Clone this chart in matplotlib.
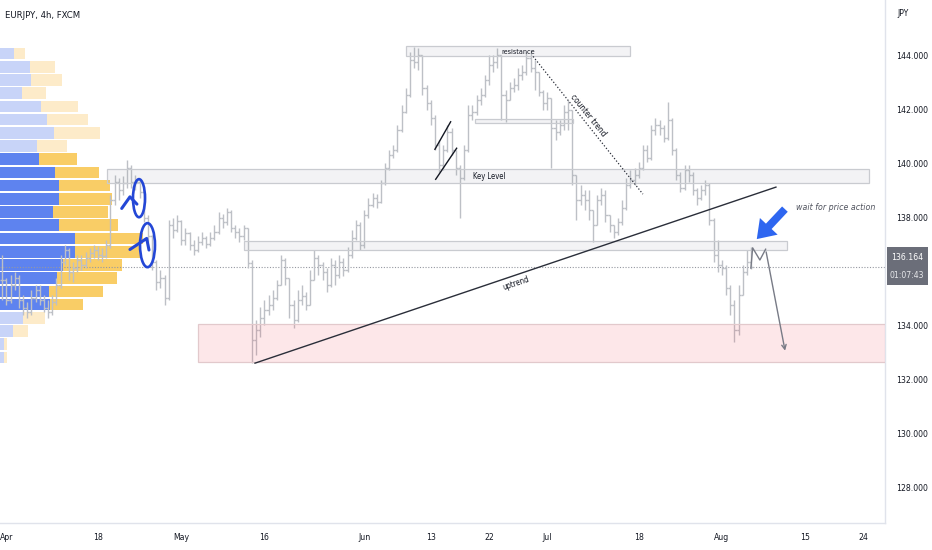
import matplotlib
matplotlib.use("Agg")
import matplotlib.pyplot as plt
import matplotlib.transforms as mtransforms
from matplotlib import font_manager
from matplotlib.font_manager import FontProperties
from matplotlib.collections import LineCollection
from matplotlib.patches import Rectangle, Ellipse, FancyArrowPatch

plt.rcParams["font.family"] = ["Liberation Sans", "DejaVu Sans"]


def find_narrow(italic=False):
    # look for a condensed / narrow face, TradingView text is quite narrow
    best = None
    for f in font_manager.fontManager.ttflist:
        fn = f.fname.lower()
        if not ("narrow" in fn or "condensed" in fn):
            continue
        if "bold" in fn or f.weight not in (400, "normal", "regular"):
            continue
        is_it = f.style in ("italic", "oblique")
        if is_it != italic:
            continue
        if best is None or "liberation" in fn:
            best = f.fname
    return best


narrow = find_narrow()
narrow_it = find_narrow(italic=True)


def fp(size, italic=False):
    path = narrow_it if italic else narrow
    if path:
        return FontProperties(fname=path, size=size)
    return FontProperties(family=["Liberation Sans", "DejaVu Sans"], size=size,
                          style="italic" if italic else "normal")


# ---- price data: EURJPY, half-day bars, x = trading day index (Apr 1 = 0)
closes = [
    135.67, 134.93, 135.48, 135.74, 134.93, 134.63, 134.48, 135.00, 135.30, 134.93,
    134.63, 134.48, 134.85, 135.48, 136.33, 136.78, 135.96, 136.11, 136.41, 136.22,
    136.48, 136.67, 136.78, 136.59, 136.56, 136.96, 138.63, 139.30, 139.00, 139.26,
    139.81, 139.30, 139.30, 138.93, 137.96, 137.30, 136.33, 135.59, 135.74, 135.00,
    137.70, 137.52, 137.85, 137.15, 137.41, 136.96, 136.78, 137.07, 137.22, 137.00,
    137.22, 137.44, 137.96, 137.81, 138.19, 137.59, 137.44, 137.30, 137.59, 136.30,
    133.44, 133.81, 134.26, 134.56, 134.74, 135.00, 135.48, 136.41, 135.74, 134.74,
    134.19, 134.93, 135.07, 134.74, 135.67, 136.48, 136.22, 135.96, 135.48, 136.22,
    135.85, 136.33, 136.04, 136.59, 137.22, 137.70, 136.96, 138.07, 138.44, 138.70,
    138.56, 139.26, 139.81, 140.30, 140.48, 141.22, 141.89, 142.52, 143.81, 143.74,
    144.00, 142.78, 142.22, 141.67, 140.67, 139.93, 140.48, 141.15, 140.48, 139.81,
    139.44, 140.48, 141.78, 141.89, 142.33, 142.52, 143.07, 143.63, 143.74, 144.00,
    142.52, 142.33, 142.78, 142.89, 143.26, 143.37, 143.89, 143.52, 143.37, 142.63,
    142.22, 142.41, 141.30, 141.15, 141.41, 141.89, 141.96, 139.56, 138.63, 138.81,
    138.63, 138.26, 137.70, 138.63, 138.81, 138.07, 137.70, 137.44, 137.81, 138.33,
    139.19, 139.37, 139.56, 139.81, 140.48, 140.19, 141.22, 141.41, 141.30, 140.93,
    141.59, 140.48, 139.56, 139.07, 139.74, 139.56, 139.00, 138.70, 139.00, 139.19,
    137.89, 136.59, 136.22, 136.11, 135.37, 134.74, 133.81, 135.11, 135.96, 136.33,
    136.164,
]
highs = [
    136.59, 135.74, 135.85, 135.96, 135.85, 135.11, 134.85, 135.30, 135.48, 135.48,
    135.11, 134.93, 135.11, 135.74, 136.59, 136.96, 136.85, 136.33, 136.59, 136.59,
    136.70, 136.85, 136.96, 136.93, 136.85, 137.15, 138.81, 139.56, 139.44, 139.52,
    140.11, 139.93, 139.56, 139.37, 139.00, 138.07, 137.33, 136.41, 136.04, 135.85,
    137.89, 137.96, 138.07, 137.89, 137.59, 137.44, 137.15, 137.30, 137.44, 137.30,
    137.44, 137.70, 138.19, 138.11, 138.33, 138.26, 137.70, 137.59, 137.70, 137.59,
    136.41, 134.19, 134.67, 134.93, 135.11, 135.30, 135.67, 136.59, 136.48, 135.74,
    134.93, 135.30, 135.48, 135.22, 136.04, 136.78, 136.59, 136.33, 136.11, 136.48,
    136.41, 136.59, 136.48, 136.89, 137.52, 137.89, 137.81, 138.26, 138.70, 138.89,
    138.85, 139.37, 140.00, 140.48, 140.67, 141.41, 142.15, 142.78, 144.11, 144.30,
    144.26, 144.00, 142.89, 142.33, 141.78, 140.85, 140.67, 141.41, 141.30, 140.48,
    139.93, 140.67, 142.15, 142.15, 142.52, 142.78, 143.26, 144.00, 144.00, 144.26,
    144.00, 142.70, 143.00, 143.15, 143.52, 143.63, 144.11, 144.19, 143.81, 143.07,
    142.70, 142.63, 142.41, 141.59, 141.59, 142.15, 142.33, 141.96, 139.56, 139.19,
    139.00, 139.00, 138.26, 138.81, 139.07, 139.00, 138.07, 137.70, 137.96, 138.63,
    139.44, 139.74, 139.81, 140.04, 140.67, 140.67, 141.41, 141.67, 141.59, 141.41,
    142.26, 141.67, 140.56, 139.67, 139.93, 139.93, 139.67, 139.07, 139.19, 139.37,
    139.26, 137.96, 137.15, 136.41, 136.22, 135.48, 134.93, 135.48, 136.22, 136.78,
    136.89,
]
lows = [
    134.93, 134.74, 134.81, 135.30, 134.63, 134.37, 134.26, 134.37, 134.85, 134.74,
    134.48, 134.26, 134.37, 134.74, 135.37, 136.22, 135.67, 135.59, 135.96, 136.04,
    136.11, 136.33, 136.48, 136.41, 136.33, 136.48, 136.85, 138.44, 138.63, 138.81,
    139.07, 139.07, 139.00, 138.70, 137.81, 137.07, 136.04, 135.30, 135.37, 134.74,
    134.93, 137.22, 137.44, 136.96, 136.96, 136.78, 136.59, 136.70, 136.96, 136.85,
    136.93, 137.15, 137.37, 137.59, 137.70, 137.44, 137.22, 137.07, 137.15, 136.11,
    132.59, 132.89, 133.56, 134.00, 134.37, 134.56, 134.93, 135.48, 135.48, 134.26,
    133.89, 134.11, 134.74, 134.56, 134.74, 135.67, 135.85, 135.67, 135.22, 135.41,
    135.48, 135.74, 135.81, 135.96, 136.48, 137.15, 136.78, 136.85, 137.96, 138.37,
    138.33, 138.52, 139.19, 139.74, 140.19, 140.41, 141.15, 141.85, 142.44, 143.52,
    143.44, 142.52, 141.96, 141.41, 140.48, 139.67, 139.74, 140.41, 140.30, 139.56,
    137.96, 139.37, 140.41, 141.59, 141.78, 142.15, 142.44, 142.89, 143.37, 143.52,
    141.59, 141.52, 142.33, 142.63, 142.70, 143.07, 143.26, 143.37, 142.70, 142.48,
    141.96, 141.96, 139.81, 140.85, 141.04, 141.22, 141.22, 139.19, 137.89, 138.44,
    138.26, 137.89, 137.07, 137.70, 138.44, 137.81, 137.44, 137.22, 137.33, 137.70,
    138.26, 139.07, 139.19, 139.44, 139.74, 140.04, 140.11, 141.04, 141.04, 140.78,
    140.85, 140.30, 139.37, 138.93, 139.00, 139.30, 138.81, 138.44, 138.63, 138.81,
    137.70, 136.33, 135.96, 135.85, 135.11, 134.37, 133.37, 133.63, 135.11, 135.85,
    136.07,
]
bar_start_day = -0.5
bar_step = 0.5
last_price = 136.164
countdown = "01:07:43"

tick_days = [0, 11, 21, 31, 43, 51, 58, 65, 76, 86, 96, 103]
tick_labels = ["Apr", "18", "May", "16", "Jun", "13", "22", "Jul", "18", "Aug", "15", "24"]
price_ticks = [128, 130, 132, 134, 138, 140, 142, 144]   # 136 hidden under last-price label

# ---- visible range volume profile (rows bottom -> top)
vp_low, vp_high = 132.56, 144.30
vp_up = [4, 4, 13, 23, 50, 49, 57, 63, 75, 75, 59, 53, 59, 59, 55, 39, 37, 54, 47, 41, 22, 31, 30, 14]
vp_down = [3, 3, 15, 22, 33, 54, 60, 59, 65, 68, 59, 55, 53, 51, 44, 38, 30, 46, 41, 37, 24, 31, 25, 11]
va_low, va_high = 134.52, 140.38

# ---- drawings (day index, price)
zones = [  # (x0, x1, p0, p1)
    (48.0, 74.9, 143.97, 144.33),
    (12.1, 103.7, 139.25, 139.77),
    (56.3, 68.1, 141.48, 141.63),
    (28.6, 93.8, 136.79, 137.10),
]
demand_zone = (23.0, 110.0, 132.62, 134.04)
uptrend = ([29.87, 92.49], [132.59, 139.11])
counter_trend = ([63.3, 76.5], [143.95, 138.85])
flag_a = ([51.5, 53.39], [140.51, 141.53])
flag_b = ([51.59, 54.11], [139.40, 140.55])
mark1_line = ([13.85, 14.84, 15.68], [138.32, 138.75, 138.48])
mark1_ring = (15.93, 138.70, 1.45, 1.41)
mark2_line = ([14.84, 16.85, 17.13], [136.80, 137.21, 136.78])
mark2_ring = (16.95, 136.96, 1.8, 1.63)
projection = ([89.48, 89.69, 90.56, 91.25, 93.65], [136.11, 136.86, 136.41, 136.81, 132.95])
blue_arrow = ((93.8, 138.37), (89.96, 137.11))

# ---- figure
fig = plt.figure(figsize=(9.32, 5.5), dpi=100)
fig.patch.set_facecolor("white")
ax = fig.add_axes([0, 27 / 550, 885 / 932, 523 / 550])
ax.set_xlim(-0.78, 105.6)
ax.set_ylim(126.67, 146.04)

# volume profile
prof_w = 0.1616
vp_max = max(u + d for u, d in zip(vp_up, vp_down))
row_h = (vp_high - vp_low) / len(vp_up)
trans = mtransforms.blended_transform_factory(ax.transAxes, ax.transData)
for i, (u, d) in enumerate(zip(vp_up, vp_down)):
    y0 = vp_low + i * row_h
    inside = va_low - 0.01 <= y0 and y0 + row_h <= va_high + 0.01
    cu = "#5e83ef" if inside else "#c8d4f8"
    cd = "#f9cd66" if inside else "#fdebc9"
    wu = u / vp_max * prof_w
    wd = d / vp_max * prof_w
    ax.add_patch(Rectangle((0, y0 + row_h * 0.06), wu, row_h * 0.88, transform=trans,
                           facecolor=cu, edgecolor="none", zorder=1))
    ax.add_patch(Rectangle((wu, y0 + row_h * 0.06), wd, row_h * 0.88, transform=trans,
                           facecolor=cd, edgecolor="none", zorder=1))

# ohlc bars
opens = [closes[0]] + closes[:-1]
segs = []
for k, (o, h, l, c) in enumerate(zip(opens, highs, lows, closes)):
    d = bar_start_day + k * bar_step
    segs.append(((d, min(l, o, c)), (d, max(h, o, c))))
    segs.append(((d - 0.25, o), (d, o)))
    segs.append(((d, c), (d + 0.25, c)))
ax.add_collection(LineCollection(segs, colors="#bdc0c6", linewidths=1.0, zorder=3))

# last price line
ax.axhline(last_price, color="#9598a1", lw=0.8, ls=(0, (1, 1.5)), zorder=2)

# zones
for x0, x1, p0, p1 in zones:
    ax.add_patch(Rectangle((x0, p0), x1 - x0, p1 - p0, facecolor=(0.55, 0.57, 0.62, 0.10),
                           edgecolor="#c9cbd0", lw=0.9, zorder=4))
x0, x1, p0, p1 = demand_zone
ax.add_patch(Rectangle((x0, p0), x1 - x0, p1 - p0, facecolor=(0.95, 0.25, 0.32, 0.12),
                       edgecolor="#e2c9cc", lw=0.9, zorder=4))

# trend lines
ax.plot(*uptrend, color="#2a2e39", lw=1.0, zorder=5)
ax.plot(*counter_trend, color="#2a2e39", lw=0.9, ls=(0, (1, 1.6)), zorder=5)
ax.plot(*flag_a, color="#131722", lw=1.0, zorder=5)
ax.plot(*flag_b, color="#131722", lw=1.0, zorder=5)

# hand-drawn marks
blue = "#2447d6"
for line, ring in ((mark1_line, mark1_ring), (mark2_line, mark2_ring)):
    ax.plot(*line, color=blue, lw=2.2, solid_capstyle="round", zorder=6)
    ax.add_patch(Ellipse((ring[0], ring[1]), ring[2], ring[3], fill=False,
                         edgecolor=blue, lw=1.9, zorder=6))

# projection path
ax.plot(projection[0][:-1], projection[1][:-1], color="#787b86", lw=1.0, zorder=6)
ax.annotate("", xy=(projection[0][-1], projection[1][-1]),
            xytext=(projection[0][-2], projection[1][-2]),
            arrowprops=dict(arrowstyle="->", color="#787b86", lw=1.0, mutation_scale=8),
            zorder=6)
ax.add_patch(FancyArrowPatch(blue_arrow[0], blue_arrow[1],
                             arrowstyle="simple,head_length=0.9,head_width=1.25,tail_width=0.4",
                             mutation_scale=14, color="#2e66f0", lw=0, zorder=7))

# labels on drawings
ink = "#131722"
ax.text(61.5, 144.13, "resistance", fontproperties=fp(5.2), color=ink, ha="center", va="center", zorder=8)
ax.text(56.1, 139.52, "Key Level", fontproperties=fp(5.5), color=ink, ha="left", va="center", zorder=8)
ax.text(61.2, 135.54, "uptrend", fontproperties=fp(5.6), color=ink, ha="center", va="center",
        rotation=18.7, zorder=8)
ax.text(69.9, 141.75, "counter trend", fontproperties=fp(6), color=ink, ha="center",
        va="center", rotation=-51, zorder=8)
ax.text(94.9, 138.37, "wait for price action", fontproperties=fp(6.3, italic=True),
        color="#50535e", ha="left", va="center", zorder=8)

# axes styling
ax.set_facecolor("white")
for s in ("top", "left"):
    ax.spines[s].set_visible(False)
for s in ("right", "bottom"):
    ax.spines[s].set_color("#e0e3eb")
    ax.spines[s].set_linewidth(1)
ax.yaxis.tick_right()
ax.set_yticks(price_ticks)
ax.set_xticks(tick_days)
ax.set_yticklabels([f"{v:.3f}" for v in price_ticks], fontproperties=fp(6.2))
ax.set_xticklabels(tick_labels, fontproperties=fp(6.2))
ax.tick_params(axis="y", length=0, pad=8, labelcolor=ink)
ax.tick_params(axis="x", length=0, pad=7, labelcolor=ink)
for lab in ax.get_yticklabels():
    lab.set_horizontalalignment("left")

fig.text(5 / 932, 1 - 15 / 550, "EURJPY, 4h, FXCM", fontproperties=fp(6.8), color=ink, va="center")
fig.text(897 / 932, 1 - 13 / 550, "JPY", fontproperties=fp(6.2), color=ink, va="center")

# last price label
fig.add_artist(Rectangle((887 / 932, 1 - 285 / 550), 41 / 932, 38 / 550,
                         transform=fig.transFigure, facecolor="#6b6e79", edgecolor="none"))
fig.text(907 / 932, 1 - 257 / 550, f"{last_price:.3f}", fontproperties=fp(6.2), color="white",
         ha="center", va="center")
fig.text(907 / 932, 1 - 275 / 550, countdown, fontproperties=fp(6.2), color="#e6e7ea",
         ha="center", va="center")

fig.savefig("out.png", dpi=100)
